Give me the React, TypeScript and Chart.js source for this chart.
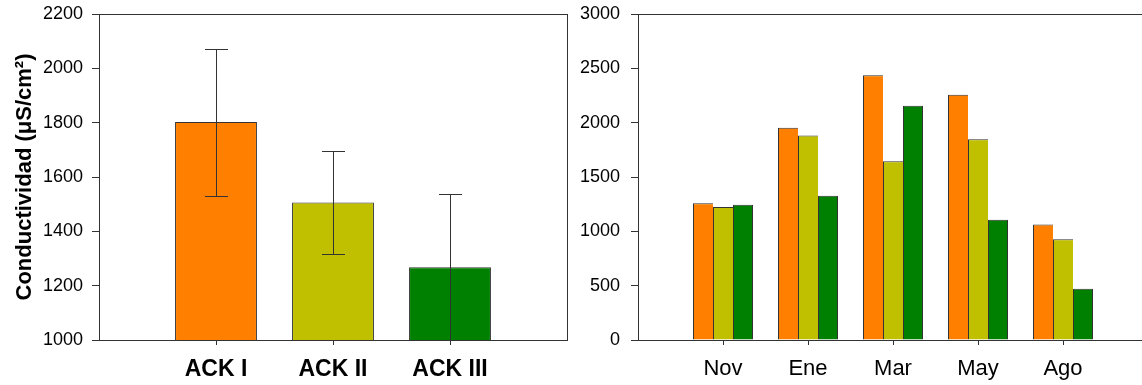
import React, { useEffect, useRef } from 'react';
import { Chart, registerables } from 'chart.js';

Chart.register(...registerables);

const FONT = "'Liberation Sans', Arial, Helvetica, sans-serif";

// Left panel: mean conductivity per site with error bars
const siteLabels = ['ACK I', 'ACK II', 'ACK III'];
const sitePositions = [1, 2, 3];
const siteMeans = [1802, 1506, 1268];
const siteErrors = [271, 188, 269];
const siteColors = ['#FF8000', '#C0C000', '#008000'];

// Right panel: conductivity per month and site
const monthLabels = ['Nov', 'Ene', 'Mar', 'May', 'Ago'];
const monthPositions = [1, 2, 3, 4, 5];
const ackIValues = [1258, 1954, 2436, 2257, 1064];
const ackIIValues = [1224, 1883, 1644, 1847, 926];
const ackIIIValues = [1245, 1328, 2156, 1107, 472];

const LINE = '#333333';

const framePlugin = {
  id: 'frame',
  afterDraw(chart: any, _args: any, opts: any) {
    const { ctx, chartArea } = chart;
    const { left, right, top, bottom } = chartArea;
    ctx.save();
    ctx.strokeStyle = LINE;
    ctx.lineWidth = 1;
    ctx.beginPath();
    const t = Math.round(top - 0.5) + 0.5;
    ctx.moveTo(left, t);
    ctx.lineTo(right, t);
    if (opts && opts.right) {
      const r = Math.round(right - 0.5) + 0.5;
      ctx.moveTo(r, top);
      ctx.lineTo(r, bottom + 0.5);
    }
    ctx.stroke();
    ctx.restore();
  },
};

const errorBarPlugin = {
  id: 'errorBars',
  afterDatasetsDraw(chart: any) {
    const { ctx, chartArea, scales } = chart;
    const xs = scales.x;
    const ys = scales.y;
    ctx.save();
    ctx.strokeStyle = LINE;
    ctx.lineWidth = 1;
    sitePositions.forEach((pos, i) => {
      const x = Math.round(xs.getPixelForValue(pos) - 0.5) + 0.5;
      const yt = Math.round(ys.getPixelForValue(siteMeans[i] + siteErrors[i])) + 0.5;
      const yb = Math.min(Math.round(ys.getPixelForValue(siteMeans[i] - siteErrors[i])) + 0.5, chartArea.bottom + 0.5);
      ctx.beginPath();
      ctx.moveTo(x, yt);
      ctx.lineTo(x, yb);
      ctx.moveTo(x - 11.5, yt);
      ctx.lineTo(x + 11.5, yt);
      ctx.moveTo(x - 11.5, yb);
      ctx.lineTo(x + 11.5, yb);
      ctx.stroke();
    });
    ctx.restore();
  },
};

const plainNumber = (v: any) => String(v);
const noScalePadding = (s: any) => {
  s.paddingTop = 0;
  s.paddingBottom = 0;
};

function LeftChart() {
  const ref = useRef<HTMLCanvasElement>(null);
  useEffect(() => {
    const chart = new Chart(ref.current!, {
      type: 'bar',
      data: {
        datasets: [
          {
            data: sitePositions.map((x, i) => ({ x, y: siteMeans[i] })),
            backgroundColor: siteColors,
            borderColor: LINE,
            borderWidth: 1,
            borderSkipped: 'bottom',
            inflateAmount: 0,
            barPercentage: 0.7,
            categoryPercentage: 1,
          },
        ],
      },
      options: {
        responsive: false,
        animation: false,
        layout: { padding: { top: 14, right: 13, left: 0, bottom: 0 } },
        plugins: { legend: { display: false }, tooltip: { enabled: false }, frame: { right: true } } as any,
        scales: {
          x: {
            type: 'linear',
            min: 0,
            max: 4,
            offset: false,
            afterBuildTicks: (s: any) => {
              s.ticks = sitePositions.map((v) => ({ value: v }));
            },
            afterFit: (s: any) => {
              s.height = 45;
            },
            grid: { display: true, offset: false, drawOnChartArea: false, drawTicks: true, tickLength: 5, tickColor: LINE },
            border: { display: true, color: LINE, width: 1 },
            ticks: {
              autoSkip: false,
              maxRotation: 0,
              padding: 11,
              color: '#000',
              font: { family: FONT, size: 23, weight: 'bold' },
              callback: (v: any) => {
                const i = sitePositions.indexOf(Number(v));
                return i >= 0 ? siteLabels[i] : '';
              },
            },
          },
          y: {
            min: 1000,
            max: 2200,
            afterFit: (s: any) => {
              s.width = 99;
              noScalePadding(s);
            },
            grid: { display: true, drawOnChartArea: false, drawTicks: true, tickLength: 7, tickColor: LINE },
            border: { display: true, color: LINE, width: 1 },
            ticks: { stepSize: 200, padding: 9, color: '#000', font: { family: FONT, size: 18 }, callback: plainNumber },
            title: {
              display: true,
              text: 'Conductividad (μS/cm²)',
              color: '#000',
              font: { family: FONT, size: 22, weight: 'bold' },
              padding: { top: 12, bottom: 0 },
            },
          },
        },
      } as any,
      plugins: [framePlugin, errorBarPlugin],
    });
    return () => chart.destroy();
  }, []);
  return <canvas ref={ref} width={580} height={385} style={{ display: 'block' }} />;
}

function RightChart() {
  const ref = useRef<HTMLCanvasElement>(null);
  useEffect(() => {
    const series = [ackIValues, ackIIValues, ackIIIValues];
    const chart = new Chart(ref.current!, {
      type: 'bar',
      data: {
        datasets: series.map((vals, k) => ({
          label: siteLabels[k],
          data: monthPositions.map((x, i) => ({ x, y: vals[i] })),
          backgroundColor: siteColors[k],
          borderColor: LINE,
          borderWidth: { top: 1, left: 1, bottom: 0, right: k === series.length - 1 ? 1 : 0 },
          borderSkipped: false,
          inflateAmount: 0,
          barPercentage: 1,
          categoryPercentage: 60 / 85,
        })),
      },
      options: {
        responsive: false,
        animation: false,
        layout: { padding: { top: 14, right: 2, left: 0, bottom: 0 } },
        plugins: { legend: { display: false }, tooltip: { enabled: false }, frame: { right: false } } as any,
        scales: {
          x: {
            type: 'linear',
            min: 0,
            max: 6,
            offset: false,
            afterBuildTicks: (s: any) => {
              s.ticks = monthPositions.map((v) => ({ value: v }));
            },
            afterFit: (s: any) => {
              s.height = 45;
            },
            grid: { display: true, offset: false, drawOnChartArea: false, drawTicks: true, tickLength: 5, tickColor: LINE },
            border: { display: true, color: LINE, width: 1 },
            ticks: {
              autoSkip: false,
              maxRotation: 0,
              padding: 11,
              color: '#000',
              font: { family: FONT, size: 22 },
              callback: (v: any) => {
                const i = monthPositions.indexOf(Number(v));
                return i >= 0 ? monthLabels[i] : '';
              },
            },
          },
          y: {
            min: 0,
            max: 3000,
            afterFit: (s: any) => {
              s.width = 58;
              noScalePadding(s);
            },
            grid: { display: true, drawOnChartArea: false, drawTicks: true, tickLength: 7, tickColor: LINE },
            border: { display: true, color: LINE, width: 1 },
            ticks: { stepSize: 500, padding: 11, color: '#000', font: { family: FONT, size: 18 }, callback: plainNumber },
          },
        },
      } as any,
      plugins: [framePlugin],
    });
    return () => chart.destroy();
  }, []);
  return <canvas ref={ref} width={570} height={385} style={{ display: 'block' }} />;
}

export default function App() {
  return (
    <div
      style={{
        position: 'absolute',
        left: 0,
        top: 0,
        width: 1142,
        height: 385,
        overflow: 'hidden',
        background: '#fff',
      }}
    >
      <div style={{ position: 'absolute', left: 0, top: 0 }}>
        <LeftChart />
      </div>
      <div style={{ position: 'absolute', left: 580, top: 0 }}>
        <RightChart />
      </div>
    </div>
  );
}
